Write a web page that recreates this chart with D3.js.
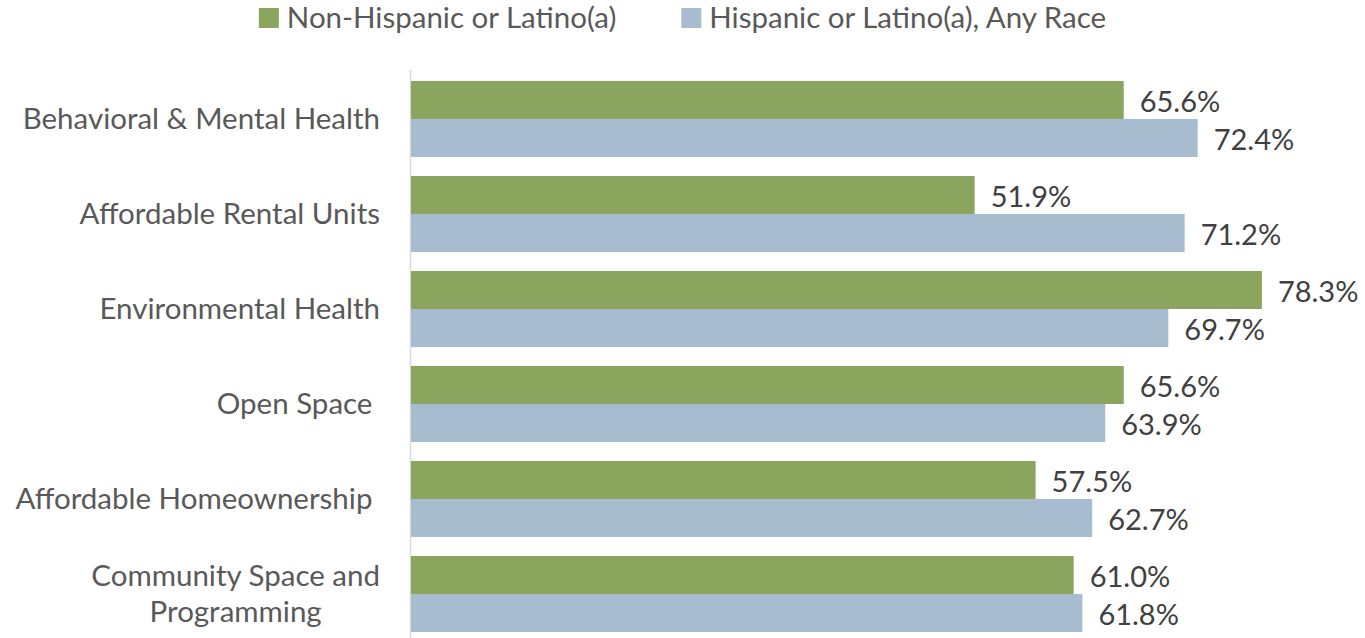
<!DOCTYPE html>
<html>
<head>
<meta charset="utf-8">
<script src="https://cdn.jsdelivr.net/npm/d3@7"></script>
<style>
  body { margin: 0; background: #fff; }
  svg { display: block; font-family: Lato, "Open Sans", sans-serif; }
</style>
</head>
<body>
<script>
var width = 1365;
var height = 638;
var margin = {top: 71.5, right: 100, bottom: 0, left: 410};

var categories = [
  ["Behavioral & Mental Health"],
  ["Affordable Rental Units"],
  ["Environmental Health"],
  ["Open Space "],
  ["Affordable Homeownership "],
  ["Community Space and", "Programming"]
];
var seriesNames = ["Non-Hispanic or Latino(a)", "Hispanic or Latino(a), Any Race"];
var nonHispanic = [65.6, 51.9, 78.3, 65.6, 57.5, 61.0];
var hispanic = [72.4, 71.2, 69.7, 63.9, 62.7, 61.8];
var colors = ["#8aa55d", "#a7bdcf"];

var rows = categories.map(function(c, i) {
  return {key: i, label: c, values: [nonHispanic[i], hispanic[i]]};
});

var svg = d3.select("body").append("svg")
    .attr("width", width)
    .attr("height", height);

var x = d3.scaleLinear()
    .domain([0, 100])
    .range([margin.left, margin.left + 1088]);

var y = d3.scaleBand()
    .domain(rows.map(function(d) { return d.key; }))
    .range([margin.top, margin.top + 6 * 95])
    .paddingInner(0.2)
    .paddingOuter(0.1);

var y1 = d3.scaleBand()
    .domain([0, 1])
    .range([0, y.bandwidth()]);

// axis line
svg.append("line")
    .attr("x1", x(0) + 0.5).attr("x2", x(0) + 0.5)
    .attr("y1", 70).attr("y2", height)
    .attr("stroke", "#d9d9d9")
    .attr("stroke-width", 1.5);

var group = svg.selectAll("g.cat")
    .data(rows)
  .enter().append("g")
    .attr("class", "cat")
    .attr("transform", function(d) { return "translate(0," + y(d.key) + ")"; });

group.selectAll("rect")
    .data(function(d) { return d.values; })
  .enter().append("rect")
    .attr("x", x(0) + 1)
    .attr("y", function(d, i) { return y1(i); })
    .attr("width", function(d) { return x(d) - x(0) - 1; })
    .attr("height", y1.bandwidth())
    .attr("fill", function(d, i) { return colors[i]; });

group.selectAll("text.val")
    .data(function(d) { return d.values; })
  .enter().append("text")
    .attr("class", "val")
    .attr("x", function(d) { return x(d) + 16; })
    .attr("y", function(d, i) { return y1(i) + y1.bandwidth() / 2 + 2; })
    .attr("dy", "0.35em")
    .attr("fill", "#404040")
    .style("font-size", "29px")
    .text(function(d) { return d.toFixed(1) + "%"; });

// category labels (multi-line ones are centred on their widest line)
group.each(function(d) {
  var t = d3.select(this).append("text")
      .attr("fill", "#595959")
      .style("font-size", "29.5px")
      .style("white-space", "pre");
  var n = d.label.length;
  var spans = d.label.map(function(line, i) {
    return t.append("tspan")
        .attr("y", y.bandwidth() / 2 + (i - (n - 1) / 2) * 36)
        .attr("dy", "0.35em")
        .text(line);
  });
  if (n == 1) {
    t.attr("text-anchor", "end");
    spans[0].attr("x", x(0) - 30);
  } else {
    var maxW = d3.max(spans, function(s) { return s.node().getComputedTextLength(); });
    t.attr("text-anchor", "middle");
    spans.forEach(function(s) { s.attr("x", x(0) - 30 - maxW / 2); });
  }
});

// legend
var legend = svg.append("g");
var lx = 0;
seriesNames.forEach(function(name, i) {
  var item = legend.append("g").attr("transform", "translate(" + lx + ",0)");
  item.append("rect")
      .attr("x", 0).attr("y", 8)
      .attr("width", 20).attr("height", 20)
      .attr("fill", colors[i]);
  var t = item.append("text")
      .attr("x", 28).attr("y", 18)
      .attr("dy", "0.35em")
      .attr("fill", "#595959")
      .style("font-size", "29.5px")
      .text(name);
  lx += 28 + t.node().getComputedTextLength() + 65;
});
var lw = legend.node().getBBox().width;
legend.attr("transform", "translate(" + (width / 2 - lw / 2) + ",0)");
</script>
</body>
</html>
